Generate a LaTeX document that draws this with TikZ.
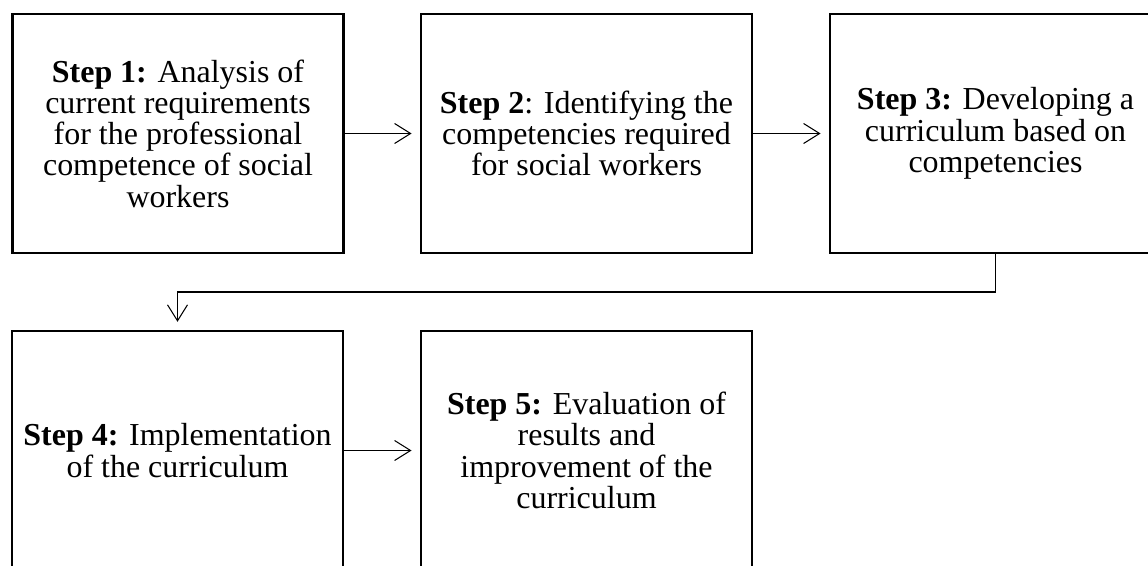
\documentclass[tikz,border=0pt]{standalone}
\usepackage{fontspec}
\setmainfont{Liberation Serif}
\usetikzlibrary{arrows.meta}

\begin{document}
\begin{tikzpicture}[x=0.02cm, y=-0.02cm, >={Straight Barb[length=0.32cm, width=0.4cm]},
    stepbox/.style={draw, line width=1.4pt, minimum width=6.63cm, minimum height=4.78cm, inner sep=0pt, align=center, font=\fontsize{18.2}{17.8}\selectfont},
    link/.style={->, line width=0.6pt, shorten >=0.16cm}]
    \useasboundingbox (0, 0) rectangle (1148, 565);

    \node[stepbox] (1) at (178, 133.5) {\textbf{Step 1:} Analysis of\\current requirements\\for the professional\\competence of social\\workers};
    \node[stepbox] (2) at (586.5, 133.5) {\textbf{Step 2}: Identifying the\\competencies required\\for social workers};
    \node[stepbox] (3) at (995.5, 133.5) {\textbf{Step 3:} Developing a\\curriculum based on\\competencies};
    \node[stepbox] (4) at (177.5, 450.5) {\textbf{Step 4:} Implementation\\of the curriculum};
    \node[stepbox] (5) at (586.5, 450.5) {\textbf{Step 5:} Evaluation of\\results and\\improvement of the\\curriculum};

    % 1 to 2
    \draw[link] (1) -- (2);
    % 2 to 3
    \draw[link] (2) -- (3);
    % 3 down to 4
    \coordinate (l0) at (177.5, 292);
    \draw[link] (3.south) |- (l0) -- (4.north);
    % 4 to 5
    \draw[link] (4) -- (5);
\end{tikzpicture}
\end{document}
